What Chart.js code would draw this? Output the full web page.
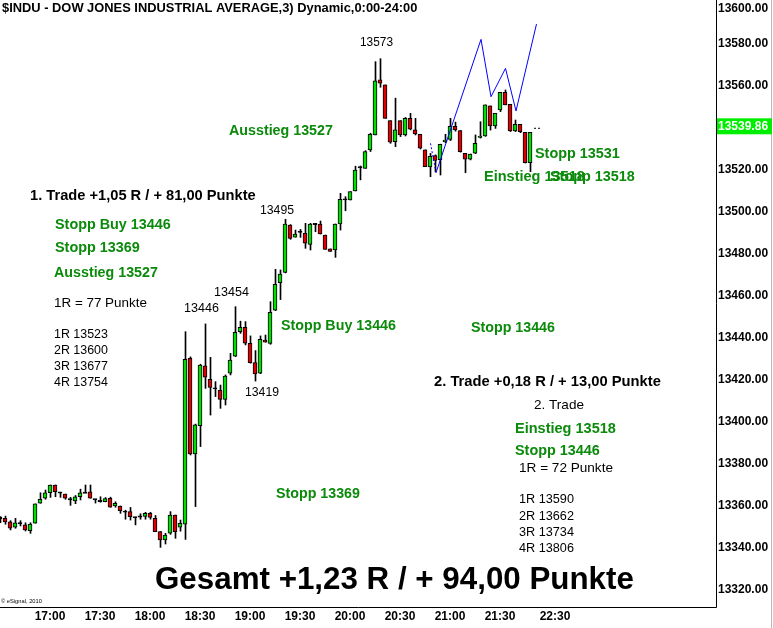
<!DOCTYPE html>
<html><head><meta charset="utf-8">
<style>html,body{margin:0;padding:0;background:#fff}#wrap{width:773px;height:628px;position:relative;overflow:hidden}</style>
<script src="https://cdn.jsdelivr.net/npm/chart.js@4/dist/chart.umd.min.js"></script>
</head><body><div id="wrap"><canvas id="c" width="773" height="628"></canvas></div>
<script>
// ---- DATA (3-minute candles, index 0 = 16:30) ----
const opens  = [13354.5,13354.1,13352.5,13349.9,13351.8,13351,13348.2,13351.8,13361.3,13363.7,13366.3,13370,13366.5,13365.7,13363.2,13362.4,13364.4,13366.3,13366.7,13363.2,13362.4,13362,13363.7,13360,13360,13357.3,13357.3,13354.6,13355,13355,13356.5,13354.1,13347.8,13343.8,13347,13355.7,13349.9,13351.4,13430.3,13384.8,13398.3,13426.7,13420.3,13416,13415.2,13410.8,13423.2,13431.4,13443,13445.1,13437.5,13428.3,13423.2,13439,13437.4,13453.3,13466.4,13471.2,13493.8,13488,13490.6,13489.8,13484.6,13494.3,13494.3,13489,13482.4,13481.9,13494.3,13506,13505.7,13510,13521.3,13520.8,13529.6,13536.7,13562.9,13560.5,13543.5,13533.5,13543.5,13536.7,13544.6,13539.1,13537,13529.6,13521.5,13526.9,13524.9,13533.5,13534.5,13540.8,13538.8,13527.9,13525.1,13528,13535.5,13536.2,13550.5,13541,13548.6,13557,13551.3,13538.6,13541.7,13537.9,13523.5];
const highs  = [13355,13355.2,13353,13354.1,13353,13352,13352,13361,13366.3,13367.6,13370,13370,13366.5,13365.7,13364.1,13365,13368,13370,13370,13363.2,13364.4,13364,13364.2,13362,13360,13358,13359.3,13354.6,13356.3,13357,13357,13355.5,13347.8,13347,13357.3,13355.7,13353.3,13443,13431,13399,13427.5,13446.7,13430.8,13419.2,13417.6,13422.4,13432.7,13454.9,13448,13447.8,13441,13434,13441,13441.4,13457.3,13472.7,13472.4,13496.5,13494,13491.4,13491.7,13494.6,13494.6,13494.5,13495.7,13489,13482.4,13494.3,13508.9,13507.3,13509.7,13521.8,13521.9,13529.2,13537.5,13571.6,13573,13560.5,13543.5,13554.2,13543.5,13545,13547,13544.6,13537,13529.6,13527.9,13527.2,13532.3,13537,13544.6,13542.8,13538.8,13527.9,13527.6,13536.7,13543,13551,13550.5,13547,13557,13558.1,13551.3,13543.8,13541.7,13537.9,13537.9];
const lows   = [13352,13351.3,13348.6,13349.4,13350.5,13348.1,13347,13351.8,13361.3,13363.2,13364.1,13364.4,13364.1,13363.2,13360.3,13361.1,13362.9,13366.3,13363.7,13361.4,13361.8,13362,13359.4,13359.4,13356.5,13353.7,13353.3,13351,13353.7,13353.7,13353.7,13347.8,13340.3,13341.9,13346.5,13344.6,13348,13344.1,13384.3,13359.7,13388.3,13416,13403.3,13412.1,13406.5,13408.1,13422.4,13431.1,13442.2,13436.7,13428,13419.5,13423,13438,13437,13453,13458.3,13471,13487,13488,13487.9,13482.7,13481.9,13490.6,13489.5,13482.2,13481.2,13478.4,13491.4,13500.6,13505.7,13510,13515.3,13520.8,13528.8,13536.7,13559.4,13544.6,13532.7,13531.1,13535.9,13536.2,13539.1,13536.7,13530,13521.6,13516.8,13519.2,13517.6,13533,13534,13538.5,13528.5,13518.7,13524.8,13527.8,13535.2,13536,13539,13539.8,13547.8,13551,13538.3,13538.3,13537.8,13523.3,13519.2];
const closes = [13354,13352.4,13349.4,13352,13351.8,13348.6,13351.4,13361,13363.2,13366.3,13370,13366.8,13366.3,13363.7,13363.2,13364.4,13366.3,13366.3,13363.7,13363.2,13362.4,13363.5,13359.4,13361.3,13357.8,13357.3,13354.9,13354.6,13355,13356.5,13354.5,13347.8,13343.8,13346.2,13355.7,13347.8,13351.8,13429.8,13384.8,13398.6,13427.1,13421.3,13416.5,13416,13410.8,13421.9,13429.5,13442.7,13445.1,13437.5,13428.3,13422.9,13439.4,13438,13452.2,13465.6,13470.4,13494.3,13487.4,13489.5,13490.6,13485.1,13494.3,13494.3,13489.5,13482.2,13481.2,13494.3,13506,13506,13509.7,13520,13521.3,13528.8,13537,13562.4,13561.3,13544.6,13533.2,13539.1,13536.7,13544.6,13539.4,13537.2,13530.4,13521.6,13526.5,13524.5,13532.2,13534.3,13540.8,13539.1,13528.7,13525.1,13527.6,13532.7,13536.2,13551,13541,13547,13557,13551,13538.6,13541.7,13538.3,13523.5,13537.9];

// projection line (bar index, price)
const projX = [86.1, 87.2, 96.2, 98.2, 101.1, 103.2, 107.3];
const projY = [13532.7, 13518.7, 13582.2, 13554.9, 13568.4, 13548.1, 13589.5];

const lastPrice = 13539.86;
const lastMarkX = [106.8, 108.2];

const yTicks = [13600,13580,13560,13540,13520,13500,13480,13460,13440,13420,13400,13380,13360,13340,13320];
const yTickSkip = 13540; // covered by last-price box
const xTickLabels = ['17:00','17:30','18:00','18:30','19:00','19:30','20:00','20:30','21:00','21:30','22:30'];
const xTickIdx    = [10,20,30,40,50,60,70,80,90,100,111];

// ---- build datasets ----
const GREEN = '#00dd00', RED = '#dd0000';
const bodyData = [], bodyColors = [], wickData = [];
opens.forEach((o, i) => {
  const c = closes[i];
  let lo = Math.min(o, c), hi = Math.max(o, c);
  let col = c > o ? GREEN : RED;
  if (hi - lo < 0.6) { const m = (hi + lo) / 2; lo = m - 0.3; hi = m + 0.3; col = '#000'; }
  bodyData.push({x: i, y: [lo, hi]});
  bodyColors.push(col);
  wickData.push({x: i + 0.1, y: [lows[i], highs[i]]}); // centre wick on a whole pixel column
});

const FONT = '"Liberation Sans", Arial, sans-serif';
const G = '#0b8a0b', K = '#000';
const notes = [
  {t:'$INDU - DOW JONES INDUSTRIAL AVERAGE,3) Dynamic,0:00-24:00', l:2, r:418, y:8, w:'bold', c:'#000'},
  {t:'13573', l:360, r:393, y:43, w:'normal', c:K},
  {t:'Ausstieg 13527', l:229, r:333, y:131, w:'bold', c:G},
  {t:'1. Trade +1,05 R / + 81,00 Punkte', l:30, r:256, y:196, w:'bold', c:K},
  {t:'13495', l:260, r:294, y:211, w:'normal', c:K},
  {t:'Stopp Buy 13446', l:55, r:171, y:225, w:'bold', c:G},
  {t:'Stopp 13369', l:55, r:140, y:248, w:'bold', c:G},
  {t:'Ausstieg 13527', l:54, r:158, y:273, w:'bold', c:G},
  {t:'1R = 77 Punkte', l:54, r:147, y:303, w:'normal', c:K},
  {t:'13454', l:214, r:249, y:293, w:'normal', c:K},
  {t:'13446', l:184, r:219, y:309, w:'normal', c:K},
  {t:'1R 13523', l:54, r:108, y:335, w:'normal', c:K},
  {t:'2R 13600', l:54, r:108, y:351, w:'normal', c:K},
  {t:'3R 13677', l:54, r:108, y:367, w:'normal', c:K},
  {t:'4R 13754', l:54, r:108, y:383, w:'normal', c:K},
  {t:'Stopp Buy 13446', l:281, r:396, y:326, w:'bold', c:G},
  {t:'13419', l:245, r:279, y:393, w:'normal', c:K},
  {t:'Stopp 13446', l:471, r:555, y:328, w:'bold', c:G},
  {t:'2. Trade +0,18 R / + 13,00 Punkte', l:434, r:661, y:382, w:'bold', c:K},
  {t:'2. Trade', l:534, r:584, y:405, w:'normal', c:K},
  {t:'Einstieg 13518', l:515, r:616, y:429, w:'bold', c:G},
  {t:'Stopp 13446', l:515, r:600, y:451, w:'bold', c:G},
  {t:'1R = 72 Punkte', l:519, r:613, y:468, w:'normal', c:K},
  {t:'1R 13590', l:519, r:574, y:499, w:'normal', c:K},
  {t:'2R 13662', l:519, r:574, y:516, w:'normal', c:K},
  {t:'3R 13734', l:519, r:574, y:532, w:'normal', c:K},
  {t:'4R 13806', l:519, r:574, y:548, w:'normal', c:K},
  {t:'Stopp 13369', l:276, r:360, y:494, w:'bold', c:G},
  {t:'Stopp 13531', l:535, r:620, y:154, w:'bold', c:G},
  {t:'Einstieg 13518', l:484, r:585, y:177, w:'bold', c:G},
  {t:'Stopp 13518', l:550, r:635, y:177, w:'bold', c:G},
  {t:'Gesamt +1,23 R / + 94,00 Punkte', l:155, r:634, y:580, w:'bold', c:'#000'},
  {t:'\u00a9 eSignal, 2010', l:1, r:42, y:601, w:'normal', c:'#000'}
];

function fitText(ctx, s, l, r, y, w, c) {
  ctx.font = `${w} 100px ${FONT}`;
  const mw = ctx.measureText(s).width;
  const size = 100 * (r - l) / mw;
  ctx.font = `${w} ${size}px ${FONT}`;
  ctx.fillStyle = c;
  ctx.textBaseline = 'middle';
  ctx.textAlign = 'left';
  ctx.fillText(s, l, y);
}

const deco = {
  id: 'deco',
  afterDraw(chart) {
    const ctx = chart.ctx, ca = chart.chartArea;
    const xs = chart.scales.x, ys = chart.scales.y;
    ctx.save();
    // frame
    ctx.strokeStyle = '#000'; ctx.lineWidth = 1;
    ctx.beginPath();
    ctx.moveTo(ca.right + 0.5, 0); ctx.lineTo(ca.right + 0.5, ca.bottom + 0.5);
    ctx.moveTo(0, ca.bottom + 0.5); ctx.lineTo(ca.right + 0.5, ca.bottom + 0.5);
    ctx.stroke();
    ctx.strokeStyle = '#b8b8b8';
    ctx.beginPath(); ctx.moveTo(771.5, 0); ctx.lineTo(771.5, 628); ctx.stroke();
    // y tick labels
    ctx.font = `bold 12px ${FONT}`;
    ctx.fillStyle = '#000'; ctx.textBaseline = 'middle'; ctx.textAlign = 'left';
    yTicks.forEach(v => {
      if (v === yTickSkip) return;
      let py = ys.getPixelForValue(v);
      if (py < 9) py = 9;
      ctx.fillText(v.toFixed(2), ca.right + 2, py);
    });
    // last price box
    const lp = ys.getPixelForValue(lastPrice) - 2;
    ctx.fillStyle = '#00ee00';
    ctx.fillRect(ca.right + 1, lp - 8, 55, 16);
    ctx.fillStyle = '#fff';
    ctx.fillText(lastPrice.toFixed(2), ca.right + 2, lp);
    // x tick labels
    ctx.fillStyle = '#000'; ctx.textAlign = 'center';
    xTickLabels.forEach((s, k) => {
      ctx.fillText(s, xs.getPixelForValue(xTickIdx[k]), 617);
    });
    // annotations
    notes.forEach(n => fitText(ctx, n.t, n.l, n.r, n.y, n.w, n.c));
    ctx.restore();
  }
};

new Chart(document.getElementById('c'), {
  data: {
    datasets: [
      {type: 'bar', data: wickData, backgroundColor: '#000', borderWidth: 0, barThickness: 1, grouped: false, order: 3},
      {type: 'bar', data: bodyData, backgroundColor: bodyColors, borderColor: '#000', borderWidth: 1, borderSkipped: false, barThickness: 4, grouped: false, order: 2},
      {type: 'line', data: projX.map((x, k) => ({x, y: projY[k]})), borderColor: '#0000ff', borderWidth: 1, pointRadius: 0, tension: 0, order: 1,
        segment: {borderDash: ctx => ctx.p0DataIndex === 0 ? [2, 2] : undefined}},
      {type: 'line', data: lastMarkX.map(x => ({x, y: lastPrice})), borderColor: '#000', borderWidth: 1, borderDash: [2, 2], pointRadius: 0, order: 0}
    ]
  },
  options: {
    responsive: false, animation: false, devicePixelRatio: 1,
    layout: {padding: {left: 0, top: 0, right: 57, bottom: 21}},
    scales: {
      x: {type: 'linear', min: 0, max: 143.2, offset: false, display: false},
      y: {type: 'linear', min: 13311.9, max: 13600.95, display: false}
    },
    plugins: {legend: {display: false}, tooltip: {enabled: false}}
  },
  plugins: [deco]
});
</script></body></html>
